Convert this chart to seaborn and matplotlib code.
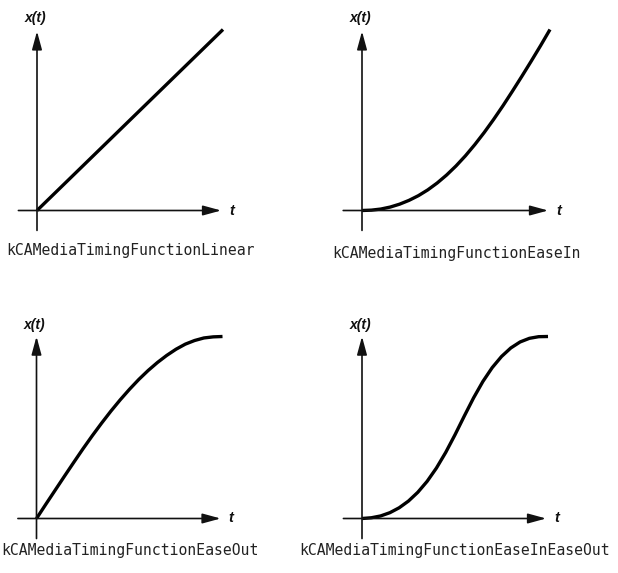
import matplotlib
matplotlib.use("Agg")
import matplotlib.pyplot as plt
import seaborn as sns
import pandas as pd

# ---- data (t normalised 0..1, x(t) normalised 0..1) ----
t_grid = [0.00, 0.05, 0.10, 0.15, 0.20, 0.25, 0.30, 0.35, 0.40, 0.45, 0.50,
          0.55, 0.60, 0.65, 0.70, 0.75, 0.80, 0.85, 0.90, 0.95, 1.00]
linear_x = [0.00, 0.05, 0.10, 0.15, 0.20, 0.25, 0.30, 0.35, 0.40, 0.45, 0.50,
            0.55, 0.60, 0.65, 0.70, 0.75, 0.80, 0.85, 0.90, 0.95, 1.00]
ease_in_x = [0.000, 0.002, 0.008, 0.019, 0.035, 0.056, 0.082, 0.114, 0.152, 0.196, 0.246,
             0.302, 0.364, 0.431, 0.503, 0.579, 0.659, 0.741, 0.825, 0.911, 1.000]
ease_out_x = [0.000, 0.078, 0.155, 0.232, 0.308, 0.383, 0.455, 0.524, 0.590, 0.652, 0.710,
              0.764, 0.813, 0.857, 0.896, 0.930, 0.958, 0.978, 0.992, 0.998, 1.000]
ease_in_out_x = [0.000, 0.004, 0.014, 0.032, 0.059, 0.096, 0.144, 0.204, 0.277, 0.363, 0.460,
                 0.563, 0.663, 0.753, 0.829, 0.890, 0.937, 0.970, 0.990, 0.999, 1.000]

captions = ["kCAMediaTimingFunctionLinear", "kCAMediaTimingFunctionEaseIn",
            "kCAMediaTimingFunctionEaseOut", "kCAMediaTimingFunctionEaseInEaseOut"]
series = [linear_x, ease_in_x, ease_out_x, ease_in_out_x]
y_label = "x(t)"
x_label = "t"

df = pd.concat([pd.DataFrame({"t": t_grid, "x": s, "name": c})
                for s, c in zip(series, captions)], ignore_index=True)

sns.set_theme(style="white")
plt.rcParams["font.family"] = ["Liberation Sans", "DejaVu Sans"]

FW, FH = 618, 573
fig = plt.figure(figsize=(FW / 100, FH / 100), dpi=100)
fig.patch.set_facecolor("white")

# panel layout: origin pixel, unit width/height in pixels, caption offset (data units)
panels = [
    dict(ox=37.0, oy=210.5, W=186.0, H=181.0, cap_y=-0.22, vtip=0.99),
    dict(ox=362.0, oy=210.5, W=188.0, H=181.0, cap_y=-0.235, vtip=0.99),
    dict(ox=36.5, oy=518.5, W=186.0, H=182.0, cap_y=-0.175, vtip=1.0),
    dict(ox=362.0, oy=518.5, W=186.0, H=182.0, cap_y=-0.175, vtip=1.0),
]
XL, XR = -0.25, 1.25
YB, YT = -0.30, 1.20

for p, cap in zip(panels, captions):
    W, H = p["W"], p["H"]
    left = (p["ox"] + XL * W) / FW
    width = (XR - XL) * W / FW
    bottom = 1 - (p["oy"] - YB * H) / FH
    height = (YT - YB) * H / FH
    ax = fig.add_axes([left, bottom, width, height])

    arrow = dict(arrowstyle="-|>,head_length=1.1,head_width=0.3", mutation_scale=10,
                 lw=1.2, color="#111111", shrinkA=0, shrinkB=0)
    # horizontal axis
    ax.annotate("", xy=(0.99, 0), xytext=(-0.10, 0), arrowprops=arrow)
    # vertical axis
    ax.annotate("", xy=(0, p["vtip"]), xytext=(0, -0.11), arrowprops=arrow)

    sub = df[df["name"] == cap]
    sns.lineplot(data=sub, x="t", y="x", ax=ax, color="black", linewidth=2.4,
                 estimator=None, sort=False, legend=False,
                 solid_joinstyle="round", solid_capstyle="butt")
    ax.set_xlim(XL, XR)
    ax.set_ylim(YB, YT)
    ax.axis("off")

    ax.text(-0.01, 1.065, y_label, ha="center", va="center", fontsize=10,
            fontweight="bold", fontstyle="italic", color="#111111")
    ax.text(1.045, 0.0, x_label, ha="center", va="center", fontsize=10.5,
            fontweight="bold", fontstyle="italic", color="#111111")
    ax.text(0.5, p["cap_y"], cap, ha="center", va="center", fontsize=10.6,
            family="DejaVu Sans Mono", color="#222222")

fig.savefig("out.png", dpi=100, facecolor="white")
